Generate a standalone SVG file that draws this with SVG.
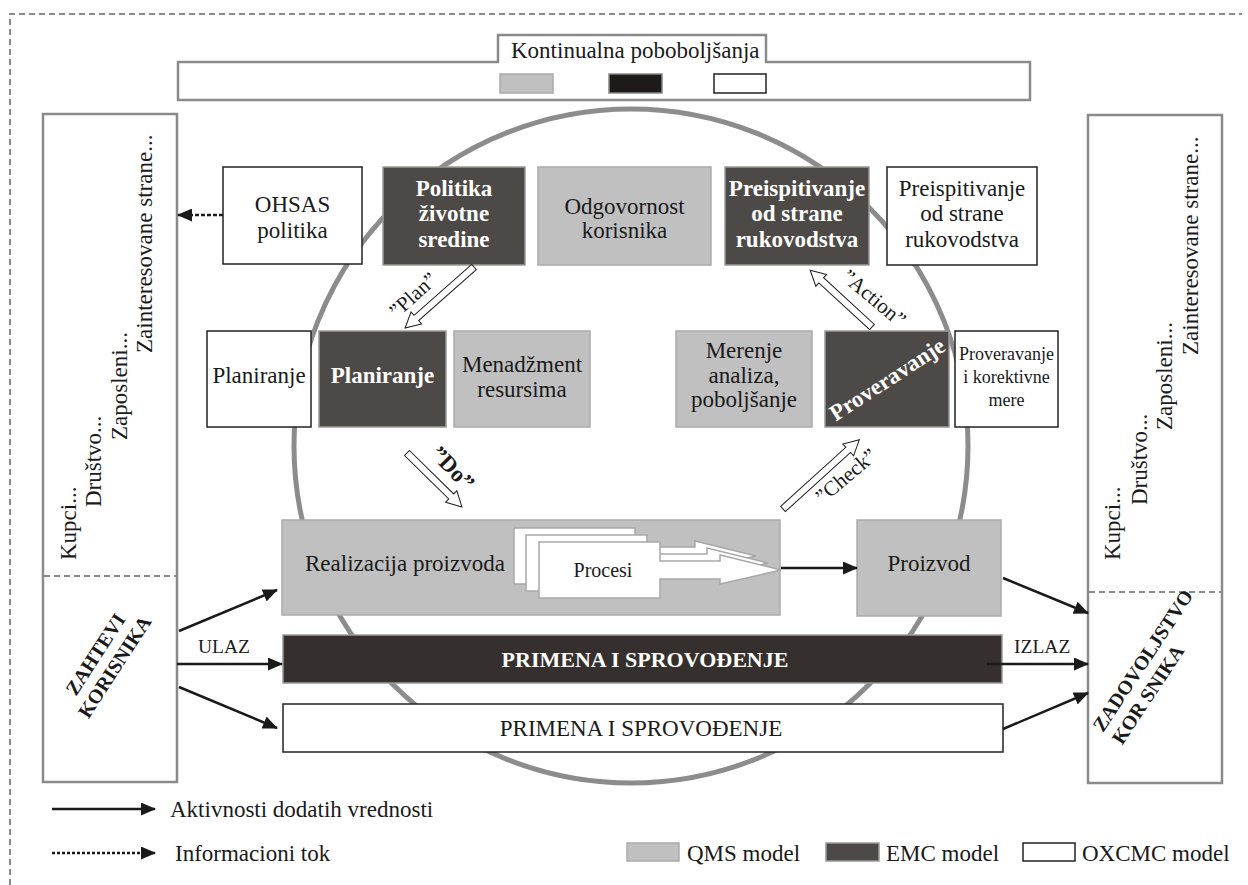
<svg xmlns="http://www.w3.org/2000/svg" width="1248" height="885" viewBox="0 0 1248 885">
  <defs>
    <marker id="ah" markerUnits="userSpaceOnUse" markerWidth="15" markerHeight="13" refX="14" refY="6.5" orient="auto">
      <path d="M0,0 L15,6.5 L0,13 Z" fill="#1a1a1a"/>
    </marker>
    <!-- stacked process sheet with outgoing arrow -->
    <path id="sheet" d="M0,0 H121 V19 H181 V13 L242,28 L181,42 V37 H121 V56 H0 Z"/>
  </defs>
  <style>
    text{font-family:"Liberation Serif","Times New Roman",serif;font-size:23px;fill:#1a1a1a}
    .b{font-weight:bold}
    .w{fill:#fff}
    .c{text-anchor:middle}
    .gray{fill:#c0c0c0;stroke:#ababab;stroke-width:1.5}
    .dark{fill:#4d4946;stroke:#9a9a9a;stroke-width:1.5}
    .white{fill:#fff;stroke:#222;stroke-width:1.5}
    .frame{fill:#fff;stroke:#8a8a8a;stroke-width:2.5}
    .conn{stroke:#1a1a1a;stroke-width:2.5;fill:none;marker-end:url(#ah)}
    .pdca{fill:#fff;stroke:#1a1a1a;stroke-width:1}
    .lbl{font-size:21px}
    .sm{font-size:18px}
  </style>

  <rect width="1248" height="885" fill="#fff"/>

  <!-- outer dashed border -->
  <path d="M10,885 V14 H1242" fill="none" stroke="#8a8a8a" stroke-width="2" stroke-dasharray="6 4"/>

  <!-- continual improvement banner -->
  <g id="kontinualna">
    <path class="frame" d="M178,62 H498 V35 H766 V62 H1030 V100 H178 Z"/>
    <text x="511" y="58">Kontinualna poboboljšanja</text>
    <rect x="500" y="74" width="53" height="19" fill="#c0c0c0" stroke="#ababab" stroke-width="1.5"/>
    <rect x="609" y="74" width="53" height="19" fill="#1e1a1a" stroke="#888" stroke-width="1.5"/>
    <rect x="714" y="74" width="52" height="19" fill="#fff" stroke="#222" stroke-width="1.5"/>
  </g>

  <!-- PDCA circle -->
  <circle cx="631" cy="446" r="337" fill="none" stroke="#8c8c8c" stroke-width="5"/>

  <!-- stakeholders: customer requirements -->
  <g id="zahtevi">
    <rect class="frame" x="43" y="114" width="134" height="668"/>
    <line x1="44" y1="576" x2="176" y2="576" stroke="#8a8a8a" stroke-width="2" stroke-dasharray="6 4"/>
    <text transform="translate(76,560) rotate(-90)">Kupci...</text>
    <text transform="translate(101,507) rotate(-90)">Društvo...</text>
    <text transform="translate(127,440) rotate(-90)">Zaposleni...</text>
    <text transform="translate(152,353) rotate(-90)">Zainteresovane strane...</text>
    <text class="b c" transform="translate(101,658) rotate(-57)"><tspan x="0" y="0" style="font-size:20px">ZAHTEVI</tspan><tspan x="0" y="23" style="font-size:20px">KORISNIKA</tspan></text>
  </g>

  <!-- stakeholders: customer satisfaction -->
  <g id="zadovoljstvo">
    <rect class="frame" x="1088" y="115" width="134" height="668"/>
    <line x1="1089" y1="592" x2="1221" y2="592" stroke="#8a8a8a" stroke-width="2" stroke-dasharray="6 4"/>
    <text transform="translate(1120,560) rotate(-90)">Kupci...</text>
    <text transform="translate(1147,505) rotate(-90)">Društvo...</text>
    <text transform="translate(1172,430) rotate(-90)">Zaposleni...</text>
    <text transform="translate(1198,355) rotate(-90)">Zainteresovane strane...</text>
    <text class="b" transform="translate(1103,733) rotate(-56.5)"><tspan x="0" y="0" style="font-size:20px">ZADOVOLJSTVO</tspan><tspan x="0" y="23" style="font-size:20px">KOR SNIKA</tspan></text>
  </g>

  <!-- row 1 -->
  <g id="ohsas-politika">
    <rect class="white" x="223" y="167" width="139" height="97"/>
    <text class="c" x="292.5" y="212">OHSAS</text>
    <text class="c" x="292.5" y="238">politika</text>
  </g>
  <g id="politika-zs">
    <rect class="dark" x="383" y="167" width="142" height="98"/>
    <text class="c b w" x="454" y="196">Politika</text>
    <text class="c b w" x="454" y="221">životne</text>
    <text class="c b w" x="454" y="247">sredine</text>
  </g>
  <g id="odgovornost">
    <rect class="gray" x="538" y="167" width="173" height="98"/>
    <text class="c" x="624.5" y="214">Odgovornost</text>
    <text class="c" x="624.5" y="238">korisnika</text>
  </g>
  <g id="preispitivanje-emc">
    <rect class="dark" x="725" y="167" width="144" height="98"/>
    <text class="c b w" x="797" y="196">Preispitivanje</text>
    <text class="c b w" x="797" y="221">od strane</text>
    <text class="c b w" x="797" y="247">rukovodstva</text>
  </g>
  <g id="preispitivanje-ohsas">
    <rect class="white" x="887" y="167" width="150" height="98"/>
    <text class="c" x="962" y="196">Preispitivanje</text>
    <text class="c" x="962" y="221">od strane</text>
    <text class="c" x="962" y="247">rukovodstva</text>
  </g>

  <!-- row 2 -->
  <g id="planiranje-ohsas">
    <rect class="white" x="207" y="331" width="104" height="96"/>
    <text class="c" x="259" y="383">Planiranje</text>
  </g>
  <g id="planiranje-emc">
    <rect class="dark" x="319" y="331" width="127" height="96"/>
    <text class="c b w" x="382.5" y="383">Planiranje</text>
  </g>
  <g id="menadzment">
    <rect class="gray" x="454" y="331" width="136" height="96"/>
    <text class="c" x="522" y="372">Menadžment</text>
    <text class="c" x="522" y="397">resursima</text>
  </g>
  <g id="merenje">
    <rect class="gray" x="676" y="331" width="136" height="96"/>
    <text class="c" x="744" y="358">Merenje</text>
    <text class="c" x="744" y="383">analiza,</text>
    <text class="c" x="744" y="407">poboljšanje</text>
  </g>
  <g id="proveravanje-emc">
    <rect class="dark" x="825" y="331" width="124" height="96"/>
    <text class="c b w" transform="translate(887,379) rotate(-33)" y="8">Proveravanje</text>
  </g>
  <g id="proveravanje-ohsas">
    <rect class="white" x="955" y="331" width="103" height="96"/>
    <text class="c sm" x="1006.5" y="360">Proveravanje</text>
    <text class="c sm" x="1006.5" y="383">i korektivne</text>
    <text class="c sm" x="1006.5" y="406">mere</text>
  </g>

  <!-- row 3 -->
  <g id="realizacija">
    <rect class="gray" x="282" y="520" width="498" height="95"/>
    <text x="305" y="571">Realizacija proizvoda</text>
    <g fill="#fff" stroke="#a8a8a8" stroke-width="1.5">
      <use href="#sheet" transform="translate(514,528)"/>
      <use href="#sheet" transform="translate(526,535)"/>
      <use href="#sheet" transform="translate(539,542)"/>
    </g>
    <text class="c" x="603" y="577" style="font-size:20px">Procesi</text>
  </g>
  <g id="proizvod">
    <rect class="gray" x="857" y="520" width="144" height="96"/>
    <text class="c" x="929" y="571">Proizvod</text>
  </g>
  <g id="primena-emc">
    <rect x="283" y="635" width="719" height="48" fill="#35302e" stroke="#9a9a9a" stroke-width="1.5"/>
    <text class="c b w" x="645" y="667" style="font-size:22px">PRIMENA I SPROVOĐENJE</text>
  </g>
  <g id="primena-ohsas">
    <rect class="white" x="283" y="704" width="720" height="48"/>
    <text class="c" x="641" y="736">PRIMENA I SPROVOĐENJE</text>
  </g>

  <!-- PDCA arrows -->
  <g id="pdca">
    <path class="pdca" transform="translate(474,267) rotate(138.5)" d="M0,-3.5 H77 V-8 L92,0 L77,8 V3.5 H0 Z"/>
    <text class="c lbl" transform="translate(413,295) rotate(-42)" y="7">”Plan”</text>
    <path class="pdca" transform="translate(407,453) rotate(44.5)" d="M0,-3.5 H62 V-8 L77,0 L62,8 V3.5 H0 Z"/>
    <text class="c b" transform="translate(453,468) rotate(46)" y="8">”Do”</text>
    <path class="pdca" transform="translate(783,509) rotate(-42.2)" d="M0,-3.5 H88 V-8 L103,0 L88,8 V3.5 H0 Z"/>
    <text class="c lbl" transform="translate(846,476) rotate(-40)" y="7">”Check”</text>
    <path class="pdca" transform="translate(872,327) rotate(-137.4)" d="M0,-3.5 H69 V-8 L84,0 L69,8 V3.5 H0 Z"/>
    <text class="c lbl" transform="translate(874,298) rotate(40)" y="7">”Action”</text>
  </g>

  <!-- connectors -->
  <g id="connectors">
    <line class="conn" x1="223" y1="215" x2="178" y2="215" stroke-dasharray="4 2"/>
    <line class="conn" x1="179" y1="631" x2="277" y2="590"/>
    <line class="conn" x1="177" y1="664" x2="282" y2="664"/>
    <line class="conn" x1="179" y1="687" x2="277" y2="728"/>
    <line class="conn" x1="781" y1="568" x2="857" y2="568"/>
    <line class="conn" x1="1003" y1="578" x2="1088" y2="613"/>
    <line class="conn" x1="987" y1="664" x2="1088" y2="664"/>
    <line class="conn" x1="1003" y1="729" x2="1088" y2="693"/>
    <text x="198" y="653" style="font-size:19.5px">ULAZ</text>
    <text x="1014" y="653" style="font-size:19.5px">IZLAZ</text>
  </g>

  <!-- legend -->
  <g id="legend">
    <line class="conn" x1="52" y1="809" x2="155" y2="809"/>
    <text x="170" y="817">Aktivnosti dodatih vrednosti</text>
    <line class="conn" x1="52" y1="853" x2="155" y2="853" stroke-dasharray="3 2"/>
    <text x="175" y="861">Informacioni tok</text>
    <rect class="gray" x="627" y="843" width="52" height="18"/>
    <text x="687" y="861">QMS model</text>
    <rect class="dark" x="826" y="843" width="53" height="18"/>
    <text x="886" y="861">EMC model</text>
    <rect class="white" x="1023" y="843" width="52" height="18"/>
    <text x="1082" y="861">OXCMC model</text>
  </g>
</svg>
